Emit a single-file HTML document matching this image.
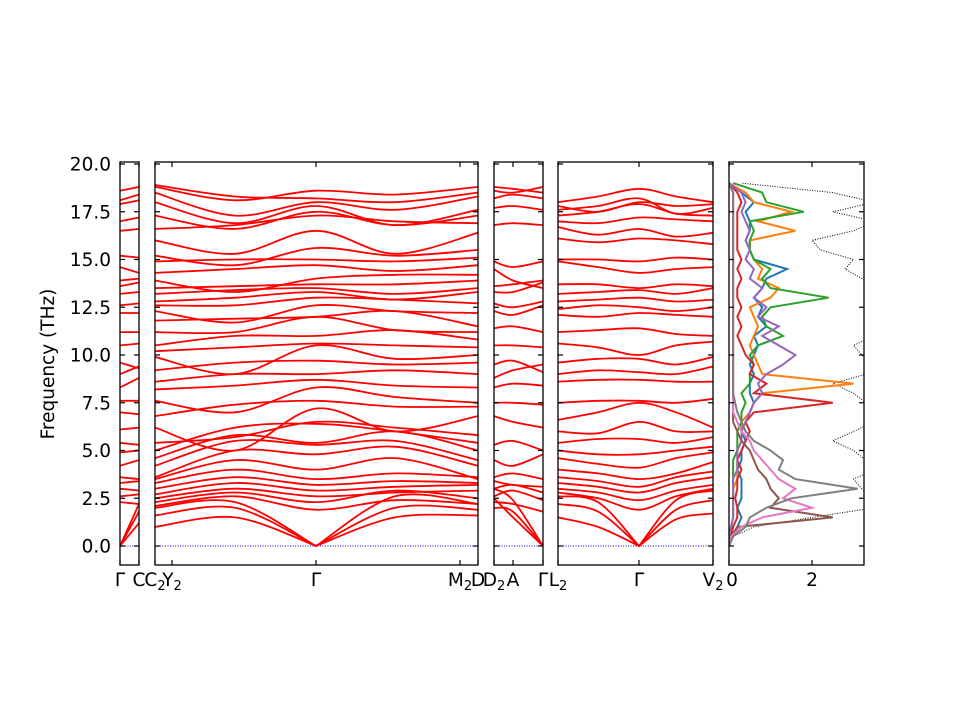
<!DOCTYPE html>
<html><head><meta charset="utf-8"><style>
body{margin:0;background:#fff;}
svg text{font-family:"DejaVu Sans","Liberation Sans",sans-serif;font-size:18.5px;fill:#000;}
</style></head><body>
<svg id="chart" width="960" height="720" viewBox="0 0 960 720" xmlns="http://www.w3.org/2000/svg"></svg>
<script>
// ---- data ----
const yTicks = [0, 2.5, 5, 7.5, 10, 12.5, 15, 17.5, 20];
const yTickLabels = ["0.0","2.5","5.0","7.5","10.0","12.5","15.0","17.5","20.0"];
const xLabels = ["Γ","C","C2","Y2","Γ","M2","D","D2","A","Γ","L2","Γ","V2"];
const dosTicks = [0, 2];
const dosTickLabels = ["0","2"];

const bands1 = [[0,1.2],[0,1.8],[0,2.2],[2.3,2.2],[2.6,2.7],[3.0,2.9],[3.3,3.4],[3.6,3.5],[4.2,4.5],[4.9,5.0],[5.4,5.3],[6.1,6.2],[7.0,6.9],[7.6,7.6],[8.3,8.8],[9.0,9.4],[9.6,9.3],[10.5,10.6],[11.2,11.2],[12.2,12.2],[12.6,12.7],[13.2,13.3],[13.6,13.8],[13.9,14.0],[14.6,14.3],[15.2,15.1],[16.5,16.6],[17.0,17.2],[17.9,18.1],[18.6,18.8],[18.1,18.4]];

const bands2 = [[1.0,1.5,0,1.5,1.6],[1.6,2.0,0,2.0,1.9],[2.0,2.3,0,2.6,2.2],
[2.1,2.6,1.9,2.4,2.2],[2.3,2.8,2.3,2.9,2.5],[2.5,3.0,2.6,2.8,2.9],[2.7,3.3,2.9,3.1,3.2],[3.0,3.6,3.2,3.4,3.3],[3.3,4.0,3.5,3.8,3.6],[3.5,4.5,4.0,4.6,3.5],[3.6,5.0,4.8,5.2,4.2],[4.2,5.5,5.3,5.5,4.5],[4.6,5.8,5.4,6.0,5.0],[5.0,6.2,6.4,6.0,5.4],[5.4,5.7,6.5,6.2,5.8],[6.2,5.0,7.2,6.0,6.8],[6.8,7.4,7.6,7.3,7.3],[7.6,7.0,8.3,7.8,7.5],[8.2,8.4,8.7,8.4,8.3],[8.6,9.0,9.0,9.2,9.0],[9.2,9.6,9.7,9.5,9.6],[9.9,9.0,10.5,9.8,10.0],[10.2,10.4,10.6,10.5,10.4],[10.5,11.0,11.0,11.3,10.8],[11.2,11.2,12.0,11.3,11.2],[11.8,11.9,12.0,12.3,11.5],[12.3,11.7,12.6,12.3,12.2],[12.6,12.6,13.0,12.9,12.7],[12.8,13.0,13.3,12.9,13.3],[13.2,13.4,13.5,13.2,13.5],[13.5,13.6,13.7,13.7,13.9],[13.9,13.3,14.0,14.2,14.2],[14.3,14.5,14.7,14.4,14.7],[14.9,15.0,15.0,14.9,15.1],[15.2,14.7,15.6,15.2,15.5],[16.0,15.3,16.5,15.3,16.4],[16.6,16.8,17.3,17.0,16.9],[17.3,16.6,17.5,16.8,17.3],[18.0,16.9,17.8,16.8,17.6],[18.5,17.3,18.0,17.6,18.3],[18.8,18.1,18.6,18.4,18.8],[18.9,18.3,18.2,18.0,18.5]];

const bands3 = [[2.0,1.8,0],[2.5,1.5,0],[3.0,2.4,0],[2.3,2.2,1.8],[2.6,2.9,2.4],[3.0,3.2,2.8],[3.4,3.2,3.1],[3.6,3.8,3.5],[4.5,4.2,4.8],[5.3,5.5,5.0],[6.8,6.5,6.2],[7.5,7.5,7.4],[8.3,8.5,8.4],[8.8,9.2,9.5],[9.5,9.7,9.1],[10.5,10.5,10.4],[11.4,11.5,11.2],[12.3,12.1,12.6],[12.7,12.5,12.8],[13.3,13.3,13.8],[13.6,13.7,13.9],[14.5,13.9,13.5],[14.9,14.6,14.9],[16.8,16.9,16.8],[17.7,17.8,17.6],[18.2,18.4,18.2],[18.6,18.5,18.8],[18.8,18.7,18.5]];

const bands4 = [[1.5,1.0,0,1.4,1.7],[2.2,1.8,0,1.9,2.4],[2.6,2.3,0,2.4,2.9],[2.8,2.5,1.9,2.6,3.0],[3.0,2.8,2.4,2.9,3.2],[3.3,3.1,2.8,3.3,3.6],[3.6,3.4,3.1,3.6,3.9],[4.0,3.8,3.5,3.8,4.4],[4.6,4.3,4.1,4.6,4.9],[5.0,4.8,4.8,5.0,5.2],[5.4,5.6,5.6,5.4,5.7],[6.0,5.9,6.5,6.0,6.0],[6.6,7.0,7.5,7.0,6.2],[7.5,7.6,7.6,7.5,7.7],[8.6,8.7,8.7,8.6,8.6],[9.0,9.2,9.1,9.0,9.4],[9.6,9.8,9.8,9.5,9.9],[10.6,10.4,10.0,10.5,10.7],[11.2,11.3,11.4,11.1,11.0],[12.1,12.0,12.2,12.1,12.0],[12.4,12.6,12.5,12.3,12.5],[12.8,12.9,13.0,12.8,12.9],[13.2,13.3,13.4,13.2,13.5],[13.7,13.7,13.5,13.7,13.6],[14.9,14.6,14.3,14.5,14.6],[15.0,15.0,14.9,15.1,15.0],[16.1,15.9,16.1,16.0,15.8],[16.7,16.3,16.6,16.2,16.4],[17.0,16.9,17.2,17.1,17.0],[17.3,17.5,17.9,17.4,17.3],[17.8,17.5,18.0,17.8,17.9],[18.0,18.3,18.7,18.3,18.0],[17.6,17.8,18.2,17.4,17.7]];

// DOS sampled every 0.5 THz from 0 to 19
const dosFreqStep = 0.5;
const dosTotal = [0,0.1,0.6,2.0,3.5,3.5,3.2,3.0,3.5,3.3,3.0,2.5,3.0,3.5,3.5,3.3,3.0,2.5,3.3,3.5,3.2,3.0,3.5,3.3,3.5,3.5,3.3,3.5,3.2,2.8,3.0,2.2,2.0,3.0,3.5,2.5,3.5,2.5,0.3];
const dosGray  = [0,0.1,0.4,0.5,0.9,1.5,3.1,1.6,1.2,1.3,1.0,0.6,0.4,0.3,0.2,0.15,0.1,0.1,0.1,0.1,0.1,0.1,0.1,0.1,0.1,0.1,0.1,0.1,0.1,0.1,0.1,0.1,0.1,0.1,0.1,0.1,0.1,0.1,0];
const dosPink  = [0,0.05,0.3,0.8,2.0,1.3,1.6,1.2,1.0,0.8,0.6,0.5,0.3,0.2,0.1,0.1,0.1,0.1,0.1,0.1,0.1,0.1,0.1,0.1,0.1,0.1,0.1,0.1,0.1,0.1,0.1,0.1,0.1,0.1,0.1,0.1,0.1,0.1,0];
const dosBrown = [0,0.05,0.2,2.5,1.0,1.2,1.0,0.9,0.7,0.6,0.5,0.3,0.2,0.1,0.1,0.1,0.1,0.1,0.1,0.1,0.1,0.1,0.1,0.1,0.1,0.1,0.1,0.1,0.1,0.1,0.1,0.1,0.1,0.1,0.1,0.1,0.1,0.1,0];
const dosRed   = [0,0.05,0.1,0.2,0.2,0.15,0.2,0.2,0.3,0.2,0.3,0.4,0.5,0.4,0.6,2.5,0.6,0.9,0.5,0.6,0.4,0.3,0.2,0.3,0.2,0.3,0.2,0.2,0.3,0.2,0.3,0.2,0.2,0.2,0.2,0.2,0.3,0.2,0];
const dosOrange= [0,0,0.05,0.1,0.1,0.1,0.1,0.2,0.2,0.2,0.2,0.3,0.3,0.3,0.5,0.6,0.8,3.0,0.8,0.7,0.6,0.5,0.6,0.7,0.6,0.5,1.0,1.2,0.7,0.8,0.6,0.5,0.5,1.6,0.7,1.5,0.6,0.4,0];
const dosPurple= [0,0,0.05,0.1,0.1,0.1,0.1,0.1,0.2,0.2,0.2,0.3,0.3,0.4,0.5,0.6,0.8,0.7,0.9,1.3,1.6,1.2,0.8,1.2,0.7,0.9,0.6,0.8,0.5,0.6,0.4,0.5,0.4,0.5,0.4,0.3,0.4,0.3,0];
const dosGreen = [0,0,0.05,0.1,0.1,0.1,0.1,0.1,0.1,0.1,0.2,0.2,0.2,0.3,0.3,0.4,0.3,0.5,0.5,0.6,0.5,0.7,1.3,0.9,0.8,1.0,2.4,1.0,0.8,1.0,0.6,0.5,0.5,0.6,0.5,1.8,0.9,0.8,0.1];
const dosBlue  = [0,0.1,0.2,0.3,0.2,0.3,0.3,0.3,0.2,0.3,0.3,0.4,0.3,0.4,0.5,0.6,0.5,0.5,0.6,0.5,0.6,0.7,0.6,0.9,0.7,0.8,0.6,0.8,0.9,1.4,0.6,0.5,0.4,0.5,0.5,0.4,0.6,0.3,0];

// ---- layout ----
const svg = document.getElementById('chart');
const NS = 'http://www.w3.org/2000/svg';
const yTop = 162, yBot = 565;
function yScale(f){ return 546 - f * 19.1; }
function dosX(d){ return 729 + d * 41.5; }
function mk(tag, attrs, parent){
  const e = document.createElementNS(NS, tag);
  for (const k in attrs) e.setAttribute(k, attrs[k]);
  (parent || svg).appendChild(e);
  return e;
}
function smoothSeg(xs, ys, first){
  let d = (first ? 'M' : 'L') + xs[0].toFixed(1) + ',' + ys[0].toFixed(1);
  for (let i = 0; i < xs.length - 1; i++){
    const x0 = xs[Math.max(0,i-1)], y0 = ys[Math.max(0,i-1)];
    const x1 = xs[i], y1 = ys[i], x2 = xs[i+1], y2 = ys[i+1];
    const x3 = xs[Math.min(xs.length-1,i+2)], y3 = ys[Math.min(xs.length-1,i+2)];
    const c1x = x1 + (x2-x0)/6, c1y = y1 + (y2-y0)/6;
    const c2x = x2 - (x3-x1)/6, c2y = y2 - (y3-y1)/6;
    d += ' C' + c1x.toFixed(1) + ',' + c1y.toFixed(1) + ' ' + c2x.toFixed(1) + ',' + c2y.toFixed(1) + ' ' + x2.toFixed(1) + ',' + y2.toFixed(1);
  }
  return d;
}
function bandPath(xs, vals){
  let d = '', start = 0, first = true;
  for (let i = 1; i < vals.length; i++){
    if (vals[i] === 0 || i === vals.length - 1){
      const sx = xs.slice(start, i + 1), sy = vals.slice(start, i + 1).map(yScale);
      if (sx.length > 1){ d += smoothSeg(sx, sy, first) + ' '; first = false; }
      start = i;
    }
  }
  return d;
}
const defs = mk('defs', {});
function clipFor(id, x0, x1){
  const cp = mk('clipPath', {id: id}, defs);
  mk('rect', {x: x0, y: yTop, width: x1 - x0, height: yBot - yTop}, cp);
}

const panels = [
  {name:'panel-gamma-c', x0:120, x1:139, nodes:[120,139], bands:bands1, ticks:[120,139]},
  {name:'panel-y2-gamma-m2', x0:155, x1:478, nodes:[155,235,316,395,478], bands:bands2, ticks:[155,172,316,460,478]},
  {name:'panel-d2-a-gamma', x0:494, x1:543, nodes:[494,513,543], bands:bands3, ticks:[494,513,543]},
  {name:'panel-l2-gamma-v2', x0:558, x1:713, nodes:[558,598,639,676,713], bands:bands4, ticks:[558,639,713]}
];

panels.forEach((p, pi) => {
  const g = mk('g', {});
  
  
  clipFor('clip' + pi, p.x0, p.x1);
  const inner = mk('g', {'clip-path': 'url(#clip' + pi + ')'}, g);
  const zl = mk('line', {x1:p.x0, x2:p.x1, y1:yScale(0), y2:yScale(0), stroke:'#0000ff', 'stroke-width':1, 'stroke-dasharray':'1,1.5'}, inner);
  
  
  p.bands.forEach((b, bi) => {
    const path = mk('path', {d: bandPath(p.nodes, b), fill:'none', stroke:'#ff0000', 'stroke-width':1.8}, inner);
    
    
  });
  mk('rect', {x:p.x0, y:yTop, width:p.x1-p.x0, height:yBot-yTop, fill:'none', stroke:'#000', 'stroke-width':1.3}, g);
  yTicks.forEach(t => {
    const y = yScale(t);
    mk('line', {x1:p.x0, x2:p.x0+5, y1:y, y2:y, stroke:'#000', 'stroke-width':1.2}, g);
    mk('line', {x1:p.x1-5, x2:p.x1, y1:y, y2:y, stroke:'#000', 'stroke-width':1.2}, g);
  });
  p.ticks.forEach(x => {
    mk('line', {x1:x, x2:x, y1:yTop, y2:yTop+5, stroke:'#000', 'stroke-width':1.2}, g);
    mk('line', {x1:x, x2:x, y1:yBot-5, y2:yBot, stroke:'#000', 'stroke-width':1.2}, g);
  });
});

// y tick labels
yTicks.forEach((t, i) => {
  const tx = mk('text', {x:111, y:yScale(t)+6.5, 'text-anchor':'end'});
  tx.textContent = yTickLabels[i];
  
  
});
const yl = mk('text', {x:0, y:0, transform:'translate(54,364) rotate(-90)', 'text-anchor':'middle'});
yl.textContent = 'Frequency (THz)';



// x labels
const xLabelPos = [120,139,155,172,316,460,478,494,513,543,558,639,713];
xLabels.forEach((l, i) => {
  const tx = mk('text', {x:xLabelPos[i], y:586, 'text-anchor':'middle'});
  if (l.length === 2 && l[1] === '2'){
    tx.appendChild(document.createTextNode(l[0]));
    const s = mk('tspan', {'font-size':'13px', dy:4}, tx);
    s.textContent = '2';
  } else tx.textContent = l;
  
  
});

// DOS panel
const dg = mk('g', {});


clipFor('clipdos', 729, 864);
const dInner = mk('g', {'clip-path':'url(#clipdos)'}, dg);
function dosLine(arr, color, width, dash, name){
  const pts = arr.map((v, i) => dosX(v).toFixed(1) + ',' + yScale(i * dosFreqStep).toFixed(1)).join(' ');
  const pl = mk('polyline', {points: pts, fill:'none', stroke: color, 'stroke-width': width}, dInner);
  if (dash) pl.setAttribute('stroke-dasharray', dash);
  
  
}
dosLine(dosTotal, '#000', 1, '1,1.5', 'dos-total');
dosLine(dosBlue, '#1f77b4', 2, null, 'dos-blue');
dosLine(dosOrange, '#ff7f0e', 2, null, 'dos-orange');
dosLine(dosGreen, '#2ca02c', 2, null, 'dos-green');
dosLine(dosRed, '#d62728', 2, null, 'dos-red');
dosLine(dosPurple, '#9467bd', 2, null, 'dos-purple');
dosLine(dosBrown, '#8c564b', 2, null, 'dos-brown');
dosLine(dosPink, '#e377c2', 2, null, 'dos-pink');
dosLine(dosGray, '#7f7f7f', 2, null, 'dos-gray');
mk('rect', {x:729, y:yTop, width:135, height:yBot-yTop, fill:'none', stroke:'#000', 'stroke-width':1.3}, dg);
yTicks.forEach(t => {
  const y = yScale(t);
  mk('line', {x1:729, x2:734, y1:y, y2:y, stroke:'#000', 'stroke-width':1.2}, dg);
  mk('line', {x1:859, x2:864, y1:y, y2:y, stroke:'#000', 'stroke-width':1.2}, dg);
});
dosTicks.forEach((t, i) => {
  const x = dosX(t);
  mk('line', {x1:x, x2:x, y1:yTop, y2:yTop+5, stroke:'#000', 'stroke-width':1.2}, dg);
  mk('line', {x1:x, x2:x, y1:yBot-5, y2:yBot, stroke:'#000', 'stroke-width':1.2}, dg);
  const tx = mk('text', {x: x + (i === 0 ? 3 : 0), y:586, 'text-anchor':'middle'}, dg);
  tx.textContent = dosTickLabels[i];
  
  
});
</script>
</body></html>
